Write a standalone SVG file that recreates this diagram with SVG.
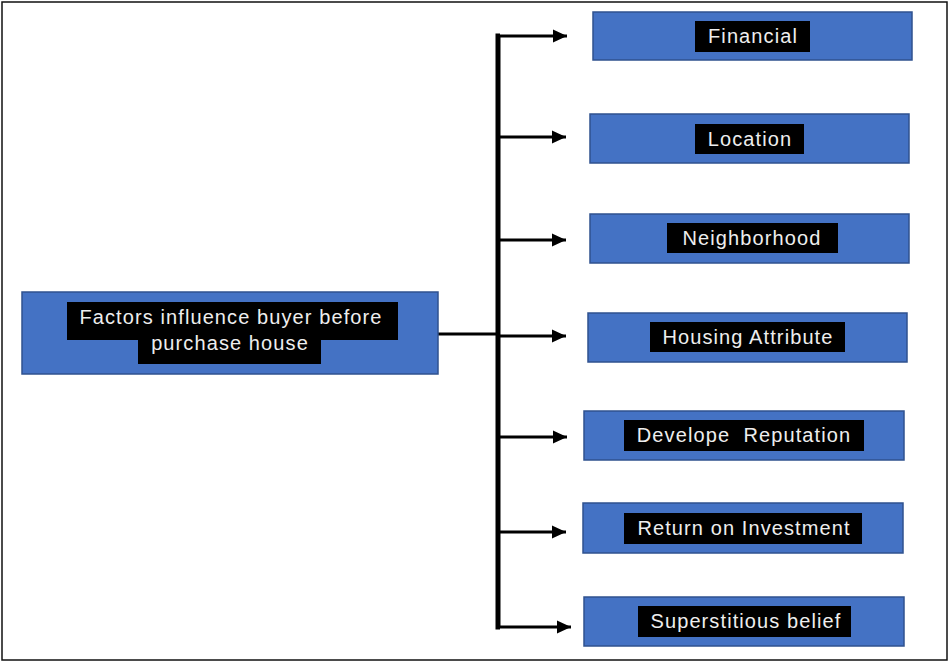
<svg xmlns="http://www.w3.org/2000/svg" width="951" height="662" viewBox="0 0 951 662">
  <defs>
    <style>
      .box { fill: #4472C4; stroke: #2F528F; stroke-width: 1.5; }
      .tag { fill: #000; }
      .txt { fill: #eeeeee; font-family: "Liberation Sans", Arial, sans-serif; font-size: 20px; letter-spacing: 1.1px; text-anchor: middle; white-space: pre; }
      .wire { stroke: #000; stroke-width: 3; fill: none; }
      .trunk { stroke: #000; stroke-width: 5; fill: none; }
    </style>
    <marker id="arrow" markerUnits="userSpaceOnUse" markerWidth="15" markerHeight="15" viewBox="0 0 15 15" refX="14" refY="7.5" orient="auto">
      <path d="M0,1 L14,7.5 L0,14 Z" fill="#000"/>
    </marker>
  </defs>

  <rect width="951" height="662" fill="#fff"/>
  <rect x="2" y="2" width="945" height="658" fill="none" stroke="#111" stroke-width="1.5"/>

  <!-- connectors -->
  <g id="connectors">
    <polyline class="trunk" points="500,36 498,36 498,627 500,627"/>
    <line class="wire" x1="438" y1="334" x2="498" y2="334"/>
    <line class="wire" x1="498" y1="36" x2="567" y2="36" marker-end="url(#arrow)"/>
    <line class="wire" x1="498" y1="137" x2="566" y2="137" marker-end="url(#arrow)"/>
    <line class="wire" x1="498" y1="240" x2="566" y2="240" marker-end="url(#arrow)"/>
    <line class="wire" x1="498" y1="336" x2="566" y2="336" marker-end="url(#arrow)"/>
    <line class="wire" x1="498" y1="437" x2="567" y2="437" marker-end="url(#arrow)"/>
    <line class="wire" x1="498" y1="532" x2="566" y2="532" marker-end="url(#arrow)"/>
    <line class="wire" x1="498" y1="627" x2="571" y2="627" marker-end="url(#arrow)"/>
  </g>

  <!-- root factor -->
  <g id="root">
    <rect class="box" x="22" y="292" width="416" height="82"/>
    <rect class="tag" x="67" y="302" width="331" height="38"/>
    <rect class="tag" x="138" y="339" width="183" height="25"/>
    <text class="txt" x="231" y="324">Factors influence buyer before</text>
    <text class="txt" x="230" y="350">purchase house</text>
  </g>

  <g id="financial">
    <rect class="box" x="593" y="12" width="319" height="48"/>
    <rect class="tag" x="695" y="21" width="115" height="31"/>
    <text class="txt" x="753" y="43">Financial</text>
  </g>

  <g id="location">
    <rect class="box" x="590" y="114" width="319" height="49"/>
    <rect class="tag" x="695" y="124" width="109" height="30"/>
    <text class="txt" x="750" y="146">Location</text>
  </g>

  <g id="neighborhood">
    <rect class="box" x="590" y="214" width="319" height="49"/>
    <rect class="tag" x="667" y="223" width="171" height="30"/>
    <text class="txt" x="752" y="245">Neighborhood</text>
  </g>

  <g id="housing-attribute">
    <rect class="box" x="588" y="313" width="319" height="49"/>
    <rect class="tag" x="650" y="322" width="195" height="30"/>
    <text class="txt" x="748" y="344">Housing Attribute</text>
  </g>

  <g id="develope-reputation">
    <rect class="box" x="584" y="411" width="320" height="49"/>
    <rect class="tag" x="624" y="420" width="240" height="31"/>
    <text class="txt" x="744" y="442">Develope  Reputation</text>
  </g>

  <g id="return-on-investment">
    <rect class="box" x="583" y="503" width="320" height="50"/>
    <rect class="tag" x="624" y="513" width="238" height="31"/>
    <text class="txt" x="744" y="535">Return on Investment</text>
  </g>

  <g id="superstitious-belief">
    <rect class="box" x="584" y="597" width="320" height="49"/>
    <rect class="tag" x="638" y="606" width="213" height="31"/>
    <text class="txt" x="746" y="628">Superstitious belief</text>
  </g>
</svg>
